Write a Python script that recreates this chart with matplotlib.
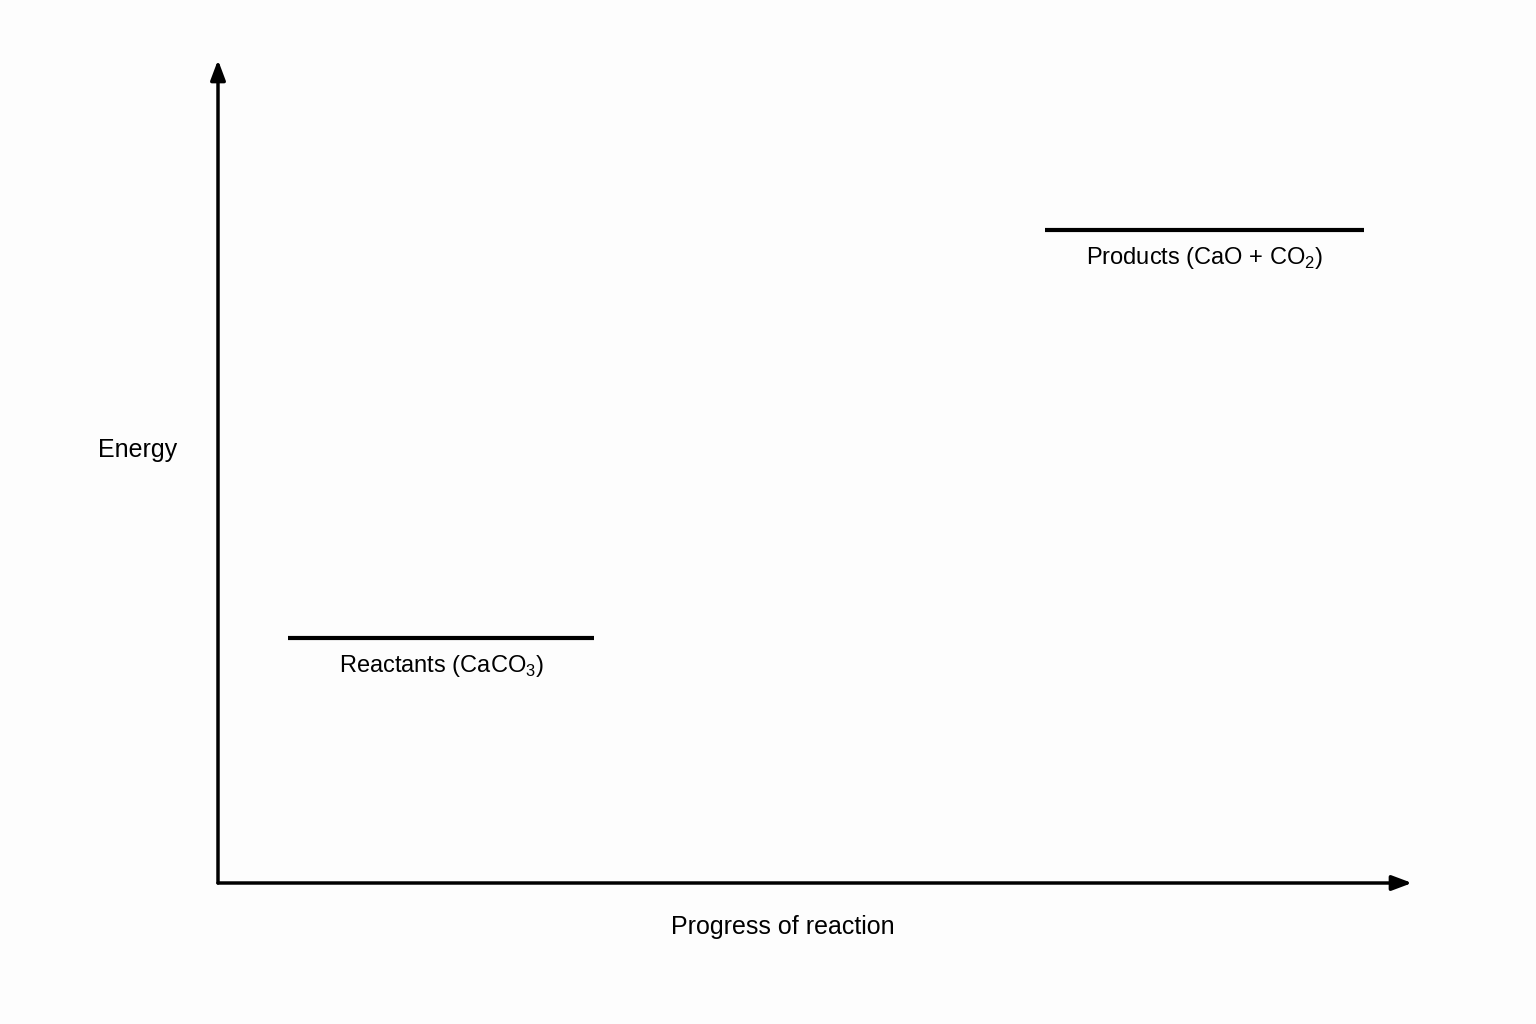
import matplotlib
matplotlib.use("Agg")
import matplotlib.pyplot as plt

plt.rcParams['font.family'] = ['Liberation Sans', 'DejaVu Sans']
plt.rcParams['mathtext.fontset'] = 'custom'
plt.rcParams['mathtext.rm'] = 'Liberation Sans'

level_names = ["Reactants (CaCO$_3$)", "Products (CaO + CO$_2$)"]
level_energy = [2.98, 7.93]
level_start = [0.59, 6.93]
level_end = [3.15, 9.6]

fig = plt.figure(figsize=(15.36, 10.24), dpi=100)
fig.patch.set_facecolor('#fdfdfd')
L, B = 218/1536, (1024-883)/1024
W, H = (1412-218)/1536, (883-60)/1024
ax = fig.add_axes([L, B, W, H])
ax.set_xlim(0, 10)
ax.set_ylim(0, 10)
ax.axis('off')

ax.annotate('', xy=(1.0, 0), xytext=(0, 0), xycoords='axes fraction',
            arrowprops=dict(arrowstyle='-|>,head_length=1.2,head_width=0.45', lw=2.5, color='black', shrinkA=0, shrinkB=0))
ax.annotate('', xy=(0, 1.0), xytext=(0, 0), xycoords='axes fraction',
            arrowprops=dict(arrowstyle='-|>,head_length=1.2,head_width=0.45', lw=2.5, color='black', shrinkA=0, shrinkB=0))

for name, e, s, t in zip(level_names, level_energy, level_start, level_end):
    ax.plot([s, t], [e, e], color='black', lw=3, solid_capstyle='butt')
    ax.text((s + t) / 2, e - 0.18, name, ha='center', va='top', fontsize=17)

fig.text(138/1536, 1 - 450/1024, "Energy", ha='center', va='center', fontsize=18)
fig.text(783/1536, 1 - 927/1024, "Progress of reaction", ha='center', va='center', fontsize=18)

fig.savefig("out.png", dpi=100, facecolor=fig.get_facecolor())
